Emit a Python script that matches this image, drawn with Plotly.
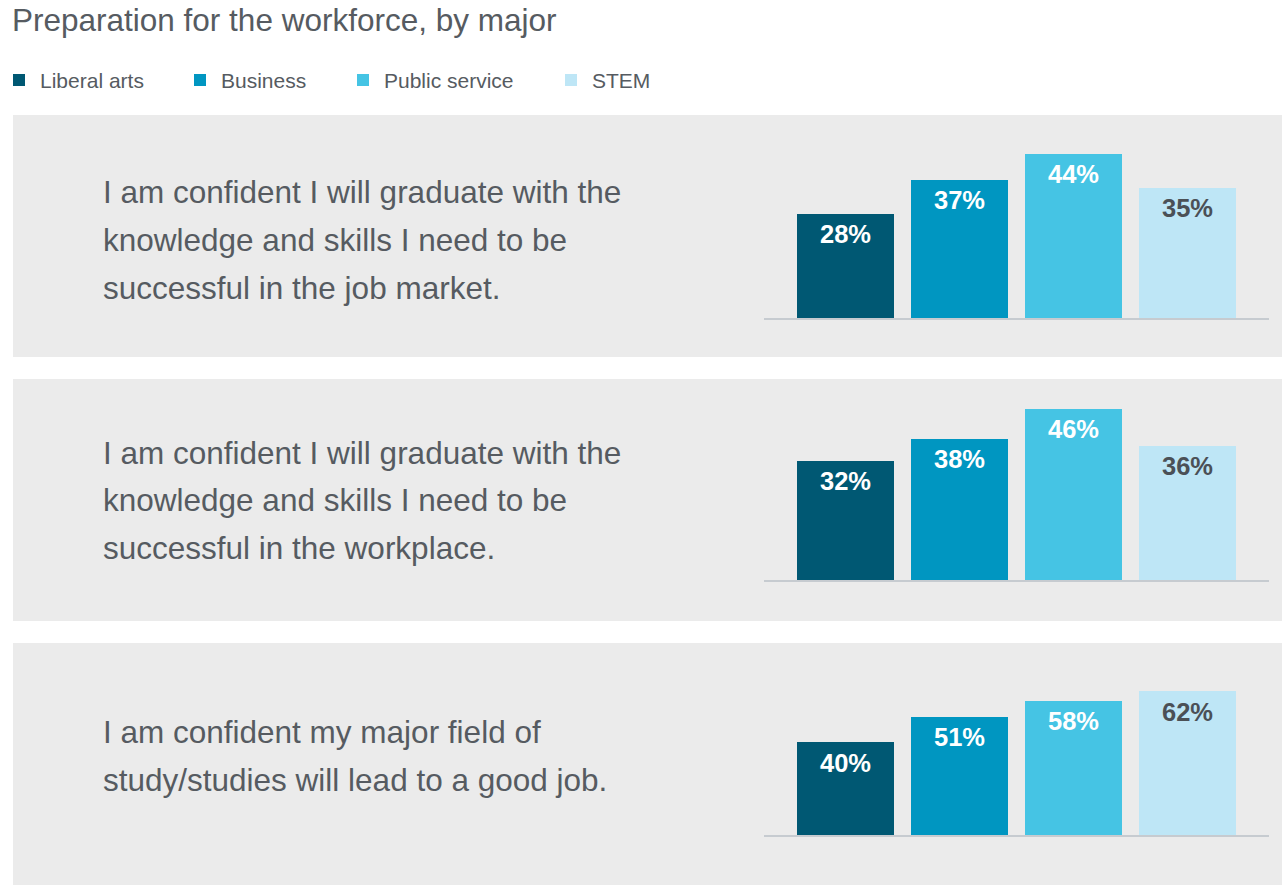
import plotly.graph_objects as go

# ---------------- data ----------------
majors = ["Liberal arts", "Business", "Public service", "STEM"]
statements = [
    ["I am confident I will graduate with the",
     "knowledge and skills I need to be",
     "successful in the job market."],
    ["I am confident I will graduate with the",
     "knowledge and skills I need to be",
     "successful in the workplace."],
    ["I am confident my major field of",
     "study/studies will lead to a good job."],
]
values_market = [28, 37, 44, 35]
values_workplace = [32, 38, 46, 36]
values_goodjob = [40, 51, 58, 62]
all_values = [values_market, values_workplace, values_goodjob]
title_text = "Preparation for the workforce, by major"

# ---------------- style ----------------
W, H = 1282, 891
bar_colors = ["#005873", "#0096c1", "#45c4e4", "#bee6f6"]
label_colors = ["#ffffff", "#ffffff", "#ffffff", "#4b5056"]
text_color = "#565b61"
panel_color = "#ebebeb"
base_color = "#c6cbd0"
FONT = "Liberation Sans, Arial, sans-serif"

def py(px):
    return 1 - px / H

def pxx(px):
    return px / W

panels = [(115, 357), (379, 621), (643, 885)]
baselines = [318, 580, 835]
y_ranges = [50, 50, 70]
px_per_unit = [3.72, 3.72, 2.31]
line_centers = [[192, 240, 288], [453, 500, 548], [732, 780]]
x_dom = [pxx(764), pxx(1269)]

fig = go.Figure()
shapes = []
annotations = []

for i, vals in enumerate(all_values):
    ax = "" if i == 0 else str(i + 1)
    top_px = baselines[i] - y_ranges[i] * px_per_unit[i]
    fig.add_trace(go.Bar(
        x=majors, y=vals, width=0.853,
        marker=dict(color=bar_colors, line=dict(width=0)),
        xaxis="x" + ax, yaxis="y" + ax, showlegend=False,
        hoverinfo="x+y",
    ))
    fig.update_layout(**{
        "xaxis" + ax: dict(domain=x_dom, range=[-0.72, 3.72], type="category",
                           showticklabels=False, showgrid=False, zeroline=False,
                           showline=True, linecolor=base_color, linewidth=2,
                           ticks="", anchor="y" + ax, fixedrange=True),
        "yaxis" + ax: dict(domain=[py(baselines[i]), py(top_px)],
                           range=[0, y_ranges[i]], showticklabels=False,
                           showgrid=False, zeroline=False, showline=False,
                           anchor="x" + ax, fixedrange=True),
    })
    # panel background
    shapes.append(dict(type="rect", xref="paper", yref="paper", layer="below",
                       x0=pxx(13), x1=pxx(1282), y0=py(panels[i][1]), y1=py(panels[i][0]),
                       fillcolor=panel_color, line=dict(width=0)))
    # value labels
    for j, v in enumerate(vals):
        annotations.append(dict(x=majors[j], y=v, xref="x" + ax, yref="y" + ax,
                                text=f"<b>{v}%</b>", showarrow=False,
                                xanchor="center", yanchor="middle", yshift=-20,
                                font=dict(family=FONT, size=25.5, color=label_colors[j])))
    # statement text
    for line, cy in zip(statements[i], line_centers[i]):
        annotations.append(dict(x=pxx(101), y=py(cy), xref="paper", yref="paper",
                                text=line, showarrow=False, xanchor="left",
                                yanchor="middle",
                                font=dict(family=FONT, size=31.5, color=text_color)))

# title
annotations.append(dict(x=pxx(10), y=py(20), xref="paper", yref="paper",
                        text=title_text, showarrow=False, xanchor="left", yanchor="middle",
                        font=dict(family=FONT, size=31.5, color=text_color)))

# legend (squares + labels)
legend_sq_x = [13, 194, 357, 565]
for name, col, lx in zip(majors, bar_colors, legend_sq_x):
    shapes.append(dict(type="rect", xref="paper", yref="paper",
                       x0=pxx(lx), x1=pxx(lx + 12), y0=py(86), y1=py(74),
                       fillcolor=col, line=dict(width=0)))
    annotations.append(dict(x=pxx(lx + 25), y=py(80), xref="paper", yref="paper",
                            text=name, showarrow=False, xanchor="left", yanchor="middle",
                            font=dict(family=FONT, size=21, color=text_color)))

fig.update_layout(
    width=W, height=H, margin=dict(l=0, r=0, t=0, b=0),
    paper_bgcolor="#ffffff", plot_bgcolor="rgba(0,0,0,0)",
    shapes=shapes, annotations=annotations, showlegend=False,
    bargap=0, font=dict(family=FONT, color=text_color),
)

fig.write_html("out.html")
